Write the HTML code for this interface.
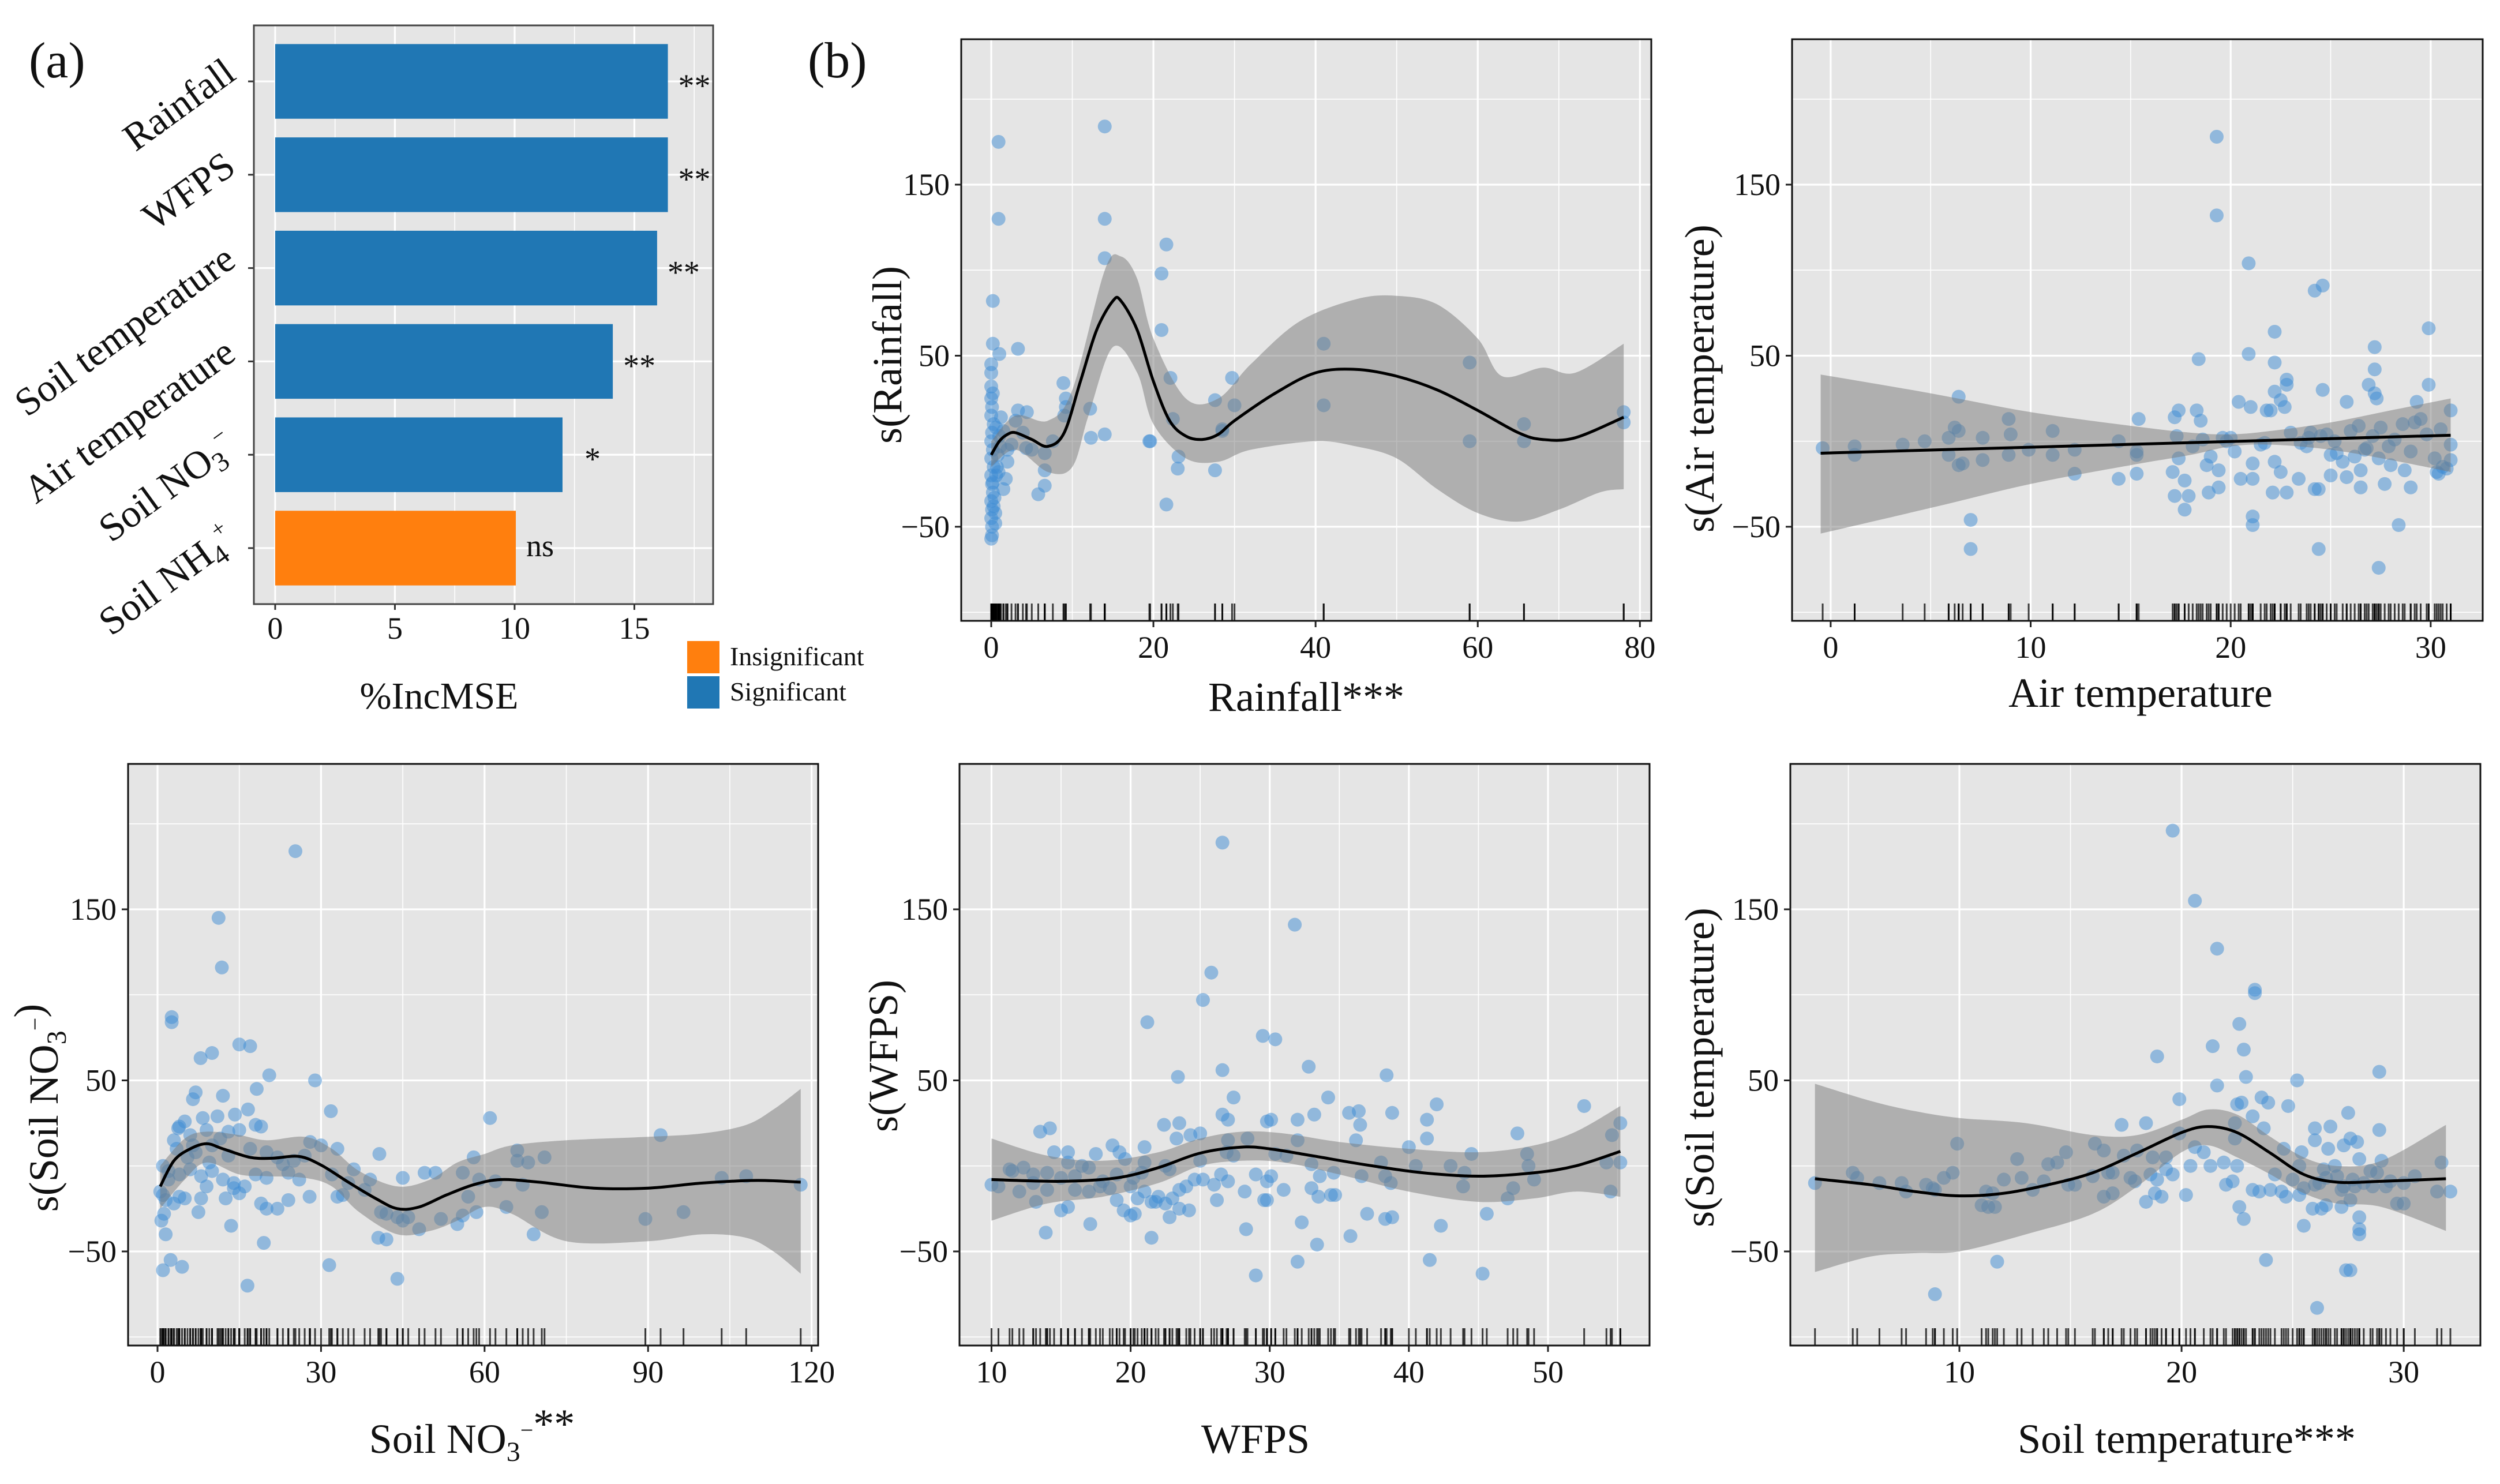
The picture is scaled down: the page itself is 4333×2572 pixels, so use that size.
<!DOCTYPE html>
<html><head><meta charset="utf-8"><style>
html,body{margin:0;padding:0;background:#fff;}
svg text{font-family:"Liberation Serif","Times New Roman",serif;fill:#111;}
</style></head><body>
<svg id="fig" xmlns="http://www.w3.org/2000/svg" width="4333" height="2567" viewBox="0 0 4333 2567">
<rect x="0" y="0" width="4333" height="2567" fill="#fff"/>
<g id="pa"></g>
<g id="pb1"></g>
<g id="pb2"></g>
<g id="pb3"></g>
<g id="pb4"></g>
<g id="pb5"></g>
<text x="50" y="134" font-size="88">(a)</text>
<text x="1400" y="134" font-size="88">(b)</text>
</svg>
<script>
// ---------- Panel (a) data ----------
const impCats = ["Rainfall","WFPS","Soil temperature","Air temperature","Soil NO3","Soil NH4"];
const impValues = [16.4, 16.4, 15.95, 14.1, 12.0, 10.05];
const impSig = ["**","**","**","**","*","ns"];
const impSignificant = [true,true,true,true,true,false];
const impTicks = [0,5,10,15];

// ---------- Rainfall ----------
const rainPtsX = [0.9,14,0.9,14,21.6,14,21,0.2,21,0.2,3.3,1,41,59,22.1,29.7,8.9,27.6,12.2,30,41,78,78,3.3,4.4,9.2,9.2,9,22.4,28.5,28.5,65.7,65.7,59,19.5,19.6,12.3,14,23.1,23,27.6,21.6,5.8,6.6,6.6,6.6,5,7.6,4.3,3.9,2,2,1.8,1.5,0,0.1,0,0.2,0.1,0,0.3,0,0.2,0,0.1,0.3,0,0.1,0,0.2,0,0.5,0.6,0.8,1,1.2,1.5,0.5,0.1,0.1,0,0,0,0.4,0.7,1.1,0.3,0.2,2.5,3,0.6,0.9];
const rainPtsY = [175,184,130,130,115,107,98,82,65,57,54,51,57,46,37,37,34,24,19,21,21,17,11,18,17,25,20,15,13,7,6,10,0,0,0,0,2,4,-9,-16,-17,-37,-31,-26,-17,-7,-5,0,-4,5,-5,-12,-22,-28,-45,-40,-35,-30,-25,-20,-15,-10,-5,0,5,10,15,20,25,28,32,-42,-20,-8,3,14,6,-48,-55,-50,-57,45,40,-33,-15,-3,-38,-24,-2,12,8,-18];
const rainFitX = [0,1,2,3,5,7,9,11,13,15,16,18,20,22,24,26,28,30,35,40,45,50,55,60,65,68,72,78];
const rainFitY = [-8,0,4,5,1,-3,5,35,65,82,82,65,35,12,3,1,4,12,28,40,42,38,30,18,5,1,2,14];
const rainUpX = [0,3,7,10,14,16,18,20,24,28,32,38,45,50,55,60,63,68,72,78];
const rainUpY = [0,15,12,30,100,108,95,60,25,25,45,70,83,85,80,60,38,43,40,57];
const rainLoX = [0,3,7,10,12,15,18,20,24,28,32,40,45,50,55,60,65,70,75,78];
const rainLoY = [-15,-5,-18,-15,15,55,40,10,-10,-12,-5,0,-3,-10,-28,-42,-47,-40,-30,-28];
const rainTicks = [0,20,40,60,80];

// ---------- Air temperature ----------
const airPtsX = [19.3,19.3,20.9,24.2,24.6,22.2,29.9,27.2,18.4,20.9,22.2,27.2,22.8,22.8,26.9,29.9,24.6,22.2,6.4,20.4,27.2,27.3,25.8,29.3,22.5,22.7,17.4,18.3,21.8,22,31,17.2,18.5,15.4,21,8.9,11.1,6.2,6.4,9,7.6,5.9,4.7,3.6,1.2,1.2,-0.4,9.9,12.2,14.4,15.3,15.3,17.4,18.8,6.4,6.6,7.6,5.9,11.1,8.9,12.2,14.4,15.3,17.1,17.2,17.9,17.7,17.7,18.9,19.4,19.4,20.5,21.1,21.1,21.1,21.1,22.5,22.1,22.8,23.4,24.2,24.4,25,25.8,26.5,26.5,27.4,27.7,28.7,28.4,29,30.2,30.3,31,7,7,24.4,27.4,20,21.5,23,23.8,24.5,25.2,26,26.8,27.5,28.2,29,29.8,30.5,31,19,20.2,22.2,23.5,24.8,25.6,26.4,27.9,28.6,29.5,30.6,23.9,25.3,26.2,27.1,28,30.8,19.8,21.7,24,25,26.7,29.2,30.4,17.3,18.1,18.6,19.6];
const airPtsY = [178,132,104,88,91,64,66,55,48,51,46,42,36,33,33,33,30,29,26,23,28,25,23,23,24,20,18,18,18,18,18,14,12,13,20,13,6,8,6,4,2,2,0,-2,-3,-8,-4,-5,-5,0,-6,-8,-10,-14,-14,-13,-11,-8,-8,-8,-19,-22,-19,-18,-32,-32,-40,-23,-30,-27,-17,-22,-22,-13,-44,-49,-18,-30,-30,-22,-28,-28,-20,-21,-27,-17,-10,-25,-17,-49,-27,-10,-18,-11,-46,-63,-63,-74,2,-2,5,-3,3,0,6,-4,8,1,-6,4,7,-2,-9,-6,-12,-1,4,-12,9,-3,10,13,-15,2,-7,-9,3,-14,-16,0,-1,5,-8,-5,11,-19,3,-3,1,2];
const airFitX = [-0.5,31];
const airFitY = [-7,3.5];
const airUpX = [-0.5,5,10,15,18,20,22,25,28,31];
const airUpY = [39,28,17,9,5,4,6,11,18,25];
const airLoX = [-0.5,5,10,15,18,20,22,25,28,31];
const airLoY = [-54,-39,-25,-14,-8,-3,-2,-5,-11,-18];
const airTicks = [0,10,20,30];

// ---------- Soil NO3 ----------
const no3PtsX = [25.3,11.2,11.8,2.6,2.6,15,17,10,7.9,20.5,28.9,12,18.2,7,6.5,31.8,16.6,5,3.8,4,8.3,11,14.2,18,19,61,3,6,9,13,15,3.5,7,10,13,17,20,22,25,27,30,33,28,92.3,40.7,66,66,68,71,58,1,2,4,6,8,10,12,14,16,18,20,24,26,32,35,49,51,45,56,59,62,67,103.5,108,118,0.5,1,1.5,3,4,5,8,9,12.5,14,15,19,20,22,24,27.9,33,34,38,39,58.5,64,41,42,44,46,45,52,55,48,57,56,0.7,1.2,1.5,7.5,13.5,19.5,40.5,42,69,89.5,96.5,70.5,2.4,1,4.5,31.5,16.5,44,5.5,6.5,9.5,11.5,2,23,36];
const no3PtsY = [184,145,116,87,84,71,70,66,63,53,50,41,45,43,39,32,33,26,22,23,28,29,30,24,23,28,15,18,21,20,21,10,8,12,6,10,8,5,3,6,12,10,14,18,7,9,3,2,5,5,0,-3,-5,-2,-6,-3,-8,-10,-12,-5,-7,-4,-8,-5,-10,-4,-4,-7,-4,-8,-9,-11,-7,-6,-11,-15,-17,-20,-22,-18,-19,-19,-12,-19,-13,-16,-22,-25,-25,-20,-18,-18,-17,-14,-8,-27,-24,-27,-28,-30,-30,-32,-31,-34,-37,-18,-29,-32,-28,-40,-27,-35,-45,-42,-43,-40,-31,-27,-27,-55,-61,-59,-58,-70,-66,5,12,2,16,-8,1,-2];
const no3FitX = [0.5,3,6,9,12,17,21,26,30,35,40,44,48,53,58,63,70,80,90,100,110,118];
const no3FitY = [-12,3,10,13,10,5,4.5,5.5,0.5,-9.5,-19,-25,-24,-17,-11,-8,-9.5,-13,-13,-10,-8.5,-9.5];
const no3UpX = [0.5,5,9,15,20,27,32,37,44,50,55,60,65,75,90,100,108,113,118];
const no3UpY = [0,16,20,18,15,17,10,-3,-12,-8,2,7,12,15,17,19,24,33,45];
const no3LoX = [0.5,5,9,15,20,27,32,37,44,50,55,60,65,75,90,100,108,113,118];
const no3LoY = [-25,-8,2,-5,-6,-7,-12,-27,-40,-38,-32,-24,-28,-44,-44,-40,-42,-50,-63];
const no3Ticks = [0,30,60,90,120];

// ---------- WFPS ----------
const wfpsPtsX = [26.6,31.8,25.8,25.2,21.2,29.5,30.4,26.6,32.8,38.4,23.4,27.4,34.2,42,52.6,35.7,36.4,38.8,33.2,26.6,27,29.8,30.1,32,41.3,36.5,55.2,22.4,23.5,25,24.3,13.5,14.2,41.3,47.8,54.6,36.2,32,23.3,28.4,27,18.7,21,14.5,15.5,17.5,19.2,40,44.5,48.5,30.4,31.2,19.6,21,15.5,16.5,12.3,11.3,13,14,15,17,19,22.5,25,26.9,27.4,33,34.6,38,40.5,43,44,48.6,54.2,55.2,36.6,33.6,29,26.5,25.2,27,29.8,30.1,38.7,38.3,49,10,10.5,12,14,16,17,18.5,20,21,22,23.5,24,26,28.2,31,33,34.4,34.7,33.5,43.9,47.5,54.5,13.2,15.5,15,19,19.5,20,21.5,22.5,23.5,24.2,20.5,20.3,26.2,29.6,29.8,47.1,22.8,21.8,37,38.3,38.8,45.6,17.1,32.3,42.3,13.9,21.5,28.3,35.8,33.4,32,41.5,29,45.3,11.5,16,18,20.8,22.8,24.6,13,17.8,20.2,23];
const wfpsPtsY = [189,141,113,97,84,76,74,56,58,53,52,40,40,36,35,31,32,31,30,30,27,26,27,27,27,24,25,24,25,19,18,20,22,16,19,18,15,15,16,16,15,12,11,8,8,7,8,11,7,7,7,6,4,2,2,0,-1,-2,-5,-4,-7,-1,-5,0,3,8,6,1,-4,2,0,0,-4,0,2,2,-6,-6,-5,-5,-8,-9,-9,-6,-10,-6,-8,-11,-12,-15,-14,-14,-15,-13,-12,-15,-18,-14,-12,-11,-15,-14,-13,-17,-17,-18,-12,-13,-15,-21,-24,-26,-20,-26,-29,-21,-22,-25,-26,-19,-28,-20,-20,-20,-19,-30,-21,-28,-31,-30,-28,-34,-33,-35,-39,-42,-37,-41,-46,-56,-55,-64,-63,-3,-6,-9,-4,-2,-8,-10,-12,-7,-19];
const wfpsFitX = [10,15,19,22,25,28,30,33,37,41,45,49,52,55.2];
const wfpsFitY = [-8,-9,-7,-1,7.5,11,10,6,0.5,-4,-6,-4,0,8.5];
const wfpsUpX = [10,14,18,22,25,28,31,35,40,45,49,52,55.2];
const wfpsUpY = [16,6,3,8,16,20,19,14,10,8,12,20,35];
const wfpsLoX = [10,14,18,22,25,28,31,35,40,45,49,52,55.2];
const wfpsLoY = [-32,-22,-18,-10,0,3,2,-5,-15,-21,-19,-15,-18];
const wfpsTicks = [10,20,30,40,50];

// ---------- Soil temperature ----------
const stPtsX = [19.6,20.6,21.6,23.3,23.3,22.6,21.4,22.8,18.9,28.9,22.9,25.2,21.6,19.9,23.6,22.5,22.7,23.9,24.8,23.2,27.5,17.3,18.4,22.4,23.7,26,26.7,28.9,19.9,27.6,27.9,9.9,16.1,26,20.6,21,22.4,16.5,17.4,18,18.7,26.6,27.3,14.8,24.6,25.4,12.6,14,14.4,19.3,20.4,21.3,21.9,22.5,25.3,26.9,28,29,31.7,5.2,5.4,9.3,9.7,7.4,8.5,8.8,7.6,6.4,8.9,3.5,11.2,11.5,12,12.8,13.3,13.8,14.9,15.2,16,16.7,16.9,17.7,17.9,18.6,18.9,19.3,19.6,20.2,16.5,16.9,18.4,19.1,18.8,11,11.6,11.3,22.3,22,23.5,23.2,24,24.5,25.3,25.5,26,26.5,27.3,27.7,28.2,28.6,29.2,30,31.5,32.1,29.7,30,26.5,27.2,27.6,26.3,25.9,22.6,22.8,25.5,28,28,28,23.8,11.7,27.4,27.6,8.9,26.1,24.2,25,26.2,27,27.8,28.5,29.4,30.5,24.7,26.4,27.2,28.8];
const stPtsY = [196,155,127,103,101,83,70,68,64,55,52,50,47,39,40,36,37,37,35,29,31,24,25,25,22,22,23,21,19,16,14,13,13,15,11,8,16,9,6,9,5,10,12,8,10,8,4,1,2,5,0,0,2,0,0,0,4,3,2,-4,-7,-7,-4,-10,-11,-13,-15,-10,-14,-10,-15,-16,-8,-7,-14,-9,-11,-11,-6,-4,-4,-7,-9,-5,-8,-2,-5,-17,-18,-16,-21,-18,-16,-23,-24,-24,-9,-11,-15,-14,-14,-15,-17,-13,-11,-7,-12,-8,-10,-12,-12,-10,-15,-15,-22,-22,-23,-24,-20,-25,-25,-24,-31,-35,-30,-37,-40,-55,-56,-61,-61,-75,-83,-5,-8,-10,-6,-12,-3,-9,-6,-18,-2,-14,-4];
const stFitX = [3.5,6,8,10,12,14,16,18,20,21.2,22.5,24,25.5,27,29,31.9];
const stFitY = [-7.5,-11,-15,-17.5,-16,-11,-4,7.5,19.5,23,19.5,7.5,-5,-9.5,-9,-7.5];
const stUpX = [3.5,6,8,10,13,16,18,20,21.2,22.5,24,25.5,27,29,31.9];
const stUpY = [48,38,32,28,25,18,18,27,33,30,17,5,0,3,24];
const stLoX = [3.5,6,8,10,13,16,18,20,21.2,22.5,24,25.5,27,29,31.9];
const stLoY = [-62,-53,-51,-50,-40,-28,-12,8,12,5,-5,-16,-22,-24,-38];
const stTicks = [10,20,30];

const yTicks = [-50,50,150];
const yMinor = [-100,0,100,200];

// ---------- helpers ----------
const NS = "http://www.w3.org/2000/svg";
function mk(parent, tag, attrs){
  const el = document.createElementNS(NS, tag);
  for (const k in attrs) el.setAttribute(k, attrs[k]);
  parent.appendChild(el);
  return el;
}
function lin(d0,d1,r0,r1){ return v => r0 + (v-d0)/(d1-d0)*(r1-r0); }
function spline(pts){
  if (pts.length===2) return "M"+pts[0][0]+","+pts[0][1]+"L"+pts[1][0]+","+pts[1][1];
  let d = "M"+pts[0][0].toFixed(1)+","+pts[0][1].toFixed(1);
  for (let i=0;i<pts.length-1;i++){
    const p0=pts[Math.max(0,i-1)], p1=pts[i], p2=pts[i+1], p3=pts[Math.min(pts.length-1,i+2)];
    const c1x=p1[0]+(p2[0]-p0[0])/6, c1y=p1[1]+(p2[1]-p0[1])/6;
    const c2x=p2[0]-(p3[0]-p1[0])/6, c2y=p2[1]-(p3[1]-p1[1])/6;
    d += "C"+c1x.toFixed(1)+","+c1y.toFixed(1)+" "+c2x.toFixed(1)+","+c2y.toFixed(1)+" "+p2[0].toFixed(1)+","+p2[1].toFixed(1);
  }
  return d;
}
function splineCont(pts){ return spline(pts).replace(/^M/,"L"); }

function scatterPanel(gid, cfg){
  const g = document.getElementById(gid);
  const {L,R,T,B,xd} = cfg;
  const X = lin(xd[0],xd[1],L,R), Y = lin(-105,235,B,T);
  const bg = mk(g,"rect",{x:L,y:T,width:R-L,height:B-T,fill:"#e5e5e5"});
  
  
  const step = cfg.ticks[1]-cfg.ticks[0];
  for (let v=cfg.ticks[0]-step/2; v<=xd[1]; v+=step){ if (v<xd[0]) continue;
    const ln = mk(g,"line",{x1:X(v),x2:X(v),y1:T,y2:B,stroke:"#fff","stroke-width":1.6});
    
    
  }
  yMinor.forEach(v=>{
    const ln = mk(g,"line",{x1:L,x2:R,y1:Y(v),y2:Y(v),stroke:"#fff","stroke-width":1.6});
    
    
  });
  cfg.ticks.forEach(v=>{
    const ln = mk(g,"line",{x1:X(v),x2:X(v),y1:T,y2:B,stroke:"#fff","stroke-width":3.2});
    
    
  });
  yTicks.forEach(v=>{
    const ln = mk(g,"line",{x1:L,x2:R,y1:Y(v),y2:Y(v),stroke:"#fff","stroke-width":3.2});
    
    
  });
  cfg.px.forEach((xv,i)=>{
    const c = mk(g,"circle",{cx:X(xv),cy:Y(cfg.py[i]),r:12,fill:"#3d8bd3","fill-opacity":0.5});
    
    
  });
  const up = cfg.ux.map((v,i)=>[X(v),Y(cfg.uy[i])]);
  const lo = cfg.lx.map((v,i)=>[X(v),Y(cfg.ly[i])]).reverse();
  const band = mk(g,"path",{d:spline(up)+splineCont(lo)+"Z",fill:"#7a7a7a","fill-opacity":0.5});
  
  
  const fit = mk(g,"path",{d:spline(cfg.fx.map((v,i)=>[X(v),Y(cfg.fy[i])])),fill:"none",stroke:"#000","stroke-width":5});
  
  
  cfg.px.forEach(xv=>{
    const r = mk(g,"line",{x1:X(xv),x2:X(xv),y1:B-30,y2:B,stroke:"#000","stroke-opacity":0.75,"stroke-width":3});
    
    
  });
  const fr = mk(g,"rect",{x:L,y:T,width:R-L,height:B-T,fill:"none",stroke:"#111","stroke-width":3});
  
  
  cfg.ticks.forEach(v=>{
    const tk = mk(g,"line",{x1:X(v),x2:X(v),y1:B,y2:B+11,stroke:"#222","stroke-width":3});
    
    
    const t = mk(g,"text",{x:X(v),y:B+64,"font-size":54,"text-anchor":"middle"});
    t.textContent = v;
    
    
  });
  yTicks.forEach(v=>{
    const tk = mk(g,"line",{x1:L-11,x2:L,y1:Y(v),y2:Y(v),stroke:"#222","stroke-width":3});
    
    
    const t = mk(g,"text",{x:L-20,y:Y(v)+18,"font-size":54,"text-anchor":"end"});
    t.textContent = v<0 ? "\u2212"+Math.abs(v) : v;
    
    
  });
  const xt = mk(g,"text",{x:cfg.xtX,y:cfg.xtY,"font-size":72,"text-anchor":"middle"});
  xt.innerHTML = cfg.xtitle;
  
  
  const yt = mk(g,"text",{x:0,y:0,"font-size":72,"text-anchor":"middle",transform:"translate("+cfg.ytX+","+cfg.ytY+") rotate(-90)"});
  yt.innerHTML = cfg.ytitle;
  
  
}

const sub3 = '<tspan font-size="48" dy="14">3</tspan><tspan font-size="40" dy="-40">\u2212</tspan><tspan dy="26"></tspan>';
scatterPanel("pb1",{L:1666,R:2862,T:68,B:1076,xd:[-3.7,81.4],ticks:rainTicks,px:rainPtsX,py:rainPtsY,fx:rainFitX,fy:rainFitY,ux:rainUpX,uy:rainUpY,lx:rainLoX,ly:rainLoY,xtitle:"Rainfall***",xtX:2264,xtY:1232,ytitle:"s(Rainfall)",ytX:1562,ytY:615});
scatterPanel("pb2",{L:3106,R:4303,T:68,B:1076,xd:[-1.93,32.6],ticks:airTicks,px:airPtsX,py:airPtsY,fx:airFitX,fy:airFitY,ux:airUpX,uy:airUpY,lx:airLoX,ly:airLoY,xtitle:"Air temperature",xtX:3710,xtY:1225,ytitle:"s(Air temperature)",ytX:2970,ytY:656});
scatterPanel("pb3",{L:222,R:1418,T:1324,B:2332,xd:[-5.4,121.2],ticks:no3Ticks,px:no3PtsX,py:no3PtsY,fx:no3FitX,fy:no3FitY,ux:no3UpX,uy:no3UpY,lx:no3LoX,ly:no3LoY,xtitle:"Soil NO"+sub3+"**",xtX:818,xtY:2518,ytitle:"s(Soil NO"+sub3+")",ytX:100,ytY:1920});
scatterPanel("pb4",{L:1663,R:2859,T:1324,B:2332,xd:[7.7,57.3],ticks:wfpsTicks,px:wfpsPtsX,py:wfpsPtsY,fx:wfpsFitX,fy:wfpsFitY,ux:wfpsUpX,uy:wfpsUpY,lx:wfpsLoX,ly:wfpsLoY,xtitle:"WFPS",xtX:2176,xtY:2518,ytitle:"s(WFPS)",ytX:1555,ytY:1830});
scatterPanel("pb5",{L:3103,R:4299,T:1324,B:2332,xd:[2.39,33.45],ticks:stTicks,px:stPtsX,py:stPtsY,fx:stFitX,fy:stFitY,ux:stUpX,uy:stUpY,lx:stLoX,ly:stLoY,xtitle:"Soil temperature***",xtX:3790,xtY:2518,ytitle:"s(Soil temperature)",ytX:2970,ytY:1850});

// ---------- Panel (a) ----------
(function(){
  const g = document.getElementById("pa");
  const L=440,R=1236,T=44,B=1047;
  const X = lin(-0.89,18.29,L,R);
  const band = (B-T)/(impCats.length-1+1.2);
  const Yc = i => T + band*(0.6+i);
  const bg = mk(g,"rect",{x:L,y:T,width:R-L,height:B-T,fill:"#e5e5e5"});
  
  
  [2.5,7.5,12.5,17.5].forEach(v=>{
    const ln = mk(g,"line",{x1:X(v),x2:X(v),y1:T,y2:B,stroke:"#fff","stroke-width":1.6});
    
    
  });
  impTicks.forEach(v=>{
    const ln = mk(g,"line",{x1:X(v),x2:X(v),y1:T,y2:B,stroke:"#fff","stroke-width":3.2});
    
    
  });
  impCats.forEach((c,i)=>{
    const ln = mk(g,"line",{x1:L,x2:R,y1:Yc(i),y2:Yc(i),stroke:"#fff","stroke-width":3.2});
    
    
  });
  impCats.forEach((c,i)=>{
    const h = band*0.8;
    const r = mk(g,"rect",{x:X(0),y:Yc(i)-h/2,width:X(impValues[i])-X(0),height:h,fill:impSignificant[i]?"#2077b4":"#ff7f0e"});
    
    
    const s = impSig[i];
    const t = mk(g,"text",{x:X(impValues[i])+(s==="*"?38:18),y:Yc(i)+(s==="ns"?14:26),"font-size":s==="ns"?54:56});
    t.textContent = s;
    
    
    const tk = mk(g,"line",{x1:L-10,x2:L,y1:Yc(i),y2:Yc(i),stroke:"#333","stroke-width":3});
    
    
    const lab = mk(g,"text",{x:0,y:0,"font-size":68,"text-anchor":"end",transform:"translate(412,"+(Yc(i)-6)+") rotate(-36)"});
    if (c==="Soil NO3") lab.innerHTML = 'Soil NO<tspan font-size="48" dy="13">3</tspan><tspan font-size="40" dy="-42">\u2212</tspan><tspan dy="29"></tspan>';
    else if (c==="Soil NH4") lab.innerHTML = 'Soil NH<tspan font-size="48" dy="13">4</tspan><tspan font-size="40" dy="-42">+</tspan><tspan dy="29"></tspan>';
    else lab.textContent = c;
    
    
  });
  const fr = mk(g,"rect",{x:L,y:T,width:R-L,height:B-T,fill:"none",stroke:"#444","stroke-width":3});
  
  
  impTicks.forEach(v=>{
    const tk = mk(g,"line",{x1:X(v),x2:X(v),y1:B,y2:B+10,stroke:"#333","stroke-width":3});
    
    
    const t = mk(g,"text",{x:X(v),y:B+60,"font-size":54,"text-anchor":"middle"});
    t.textContent = v;
    
    
  });
  const xt = mk(g,"text",{x:761,y:1228,"font-size":66,"text-anchor":"middle"});
  xt.textContent = "%IncMSE";
  
  
  const lg = mk(g,"g",{});
  
  
  const s1 = mk(lg,"rect",{x:1191,y:1111,width:56,height:56,fill:"#ff7f0e"});
  
  
  const s2 = mk(lg,"rect",{x:1191,y:1172,width:56,height:56,fill:"#2077b4"});
  
  
  const t1 = mk(lg,"text",{x:1265,y:1153,"font-size":46});
  t1.textContent = "Insignificant";
  
  
  const t2 = mk(lg,"text",{x:1265,y:1214,"font-size":46});
  t2.textContent = "Significant";
  
  
})();
</script>
</body></html>
